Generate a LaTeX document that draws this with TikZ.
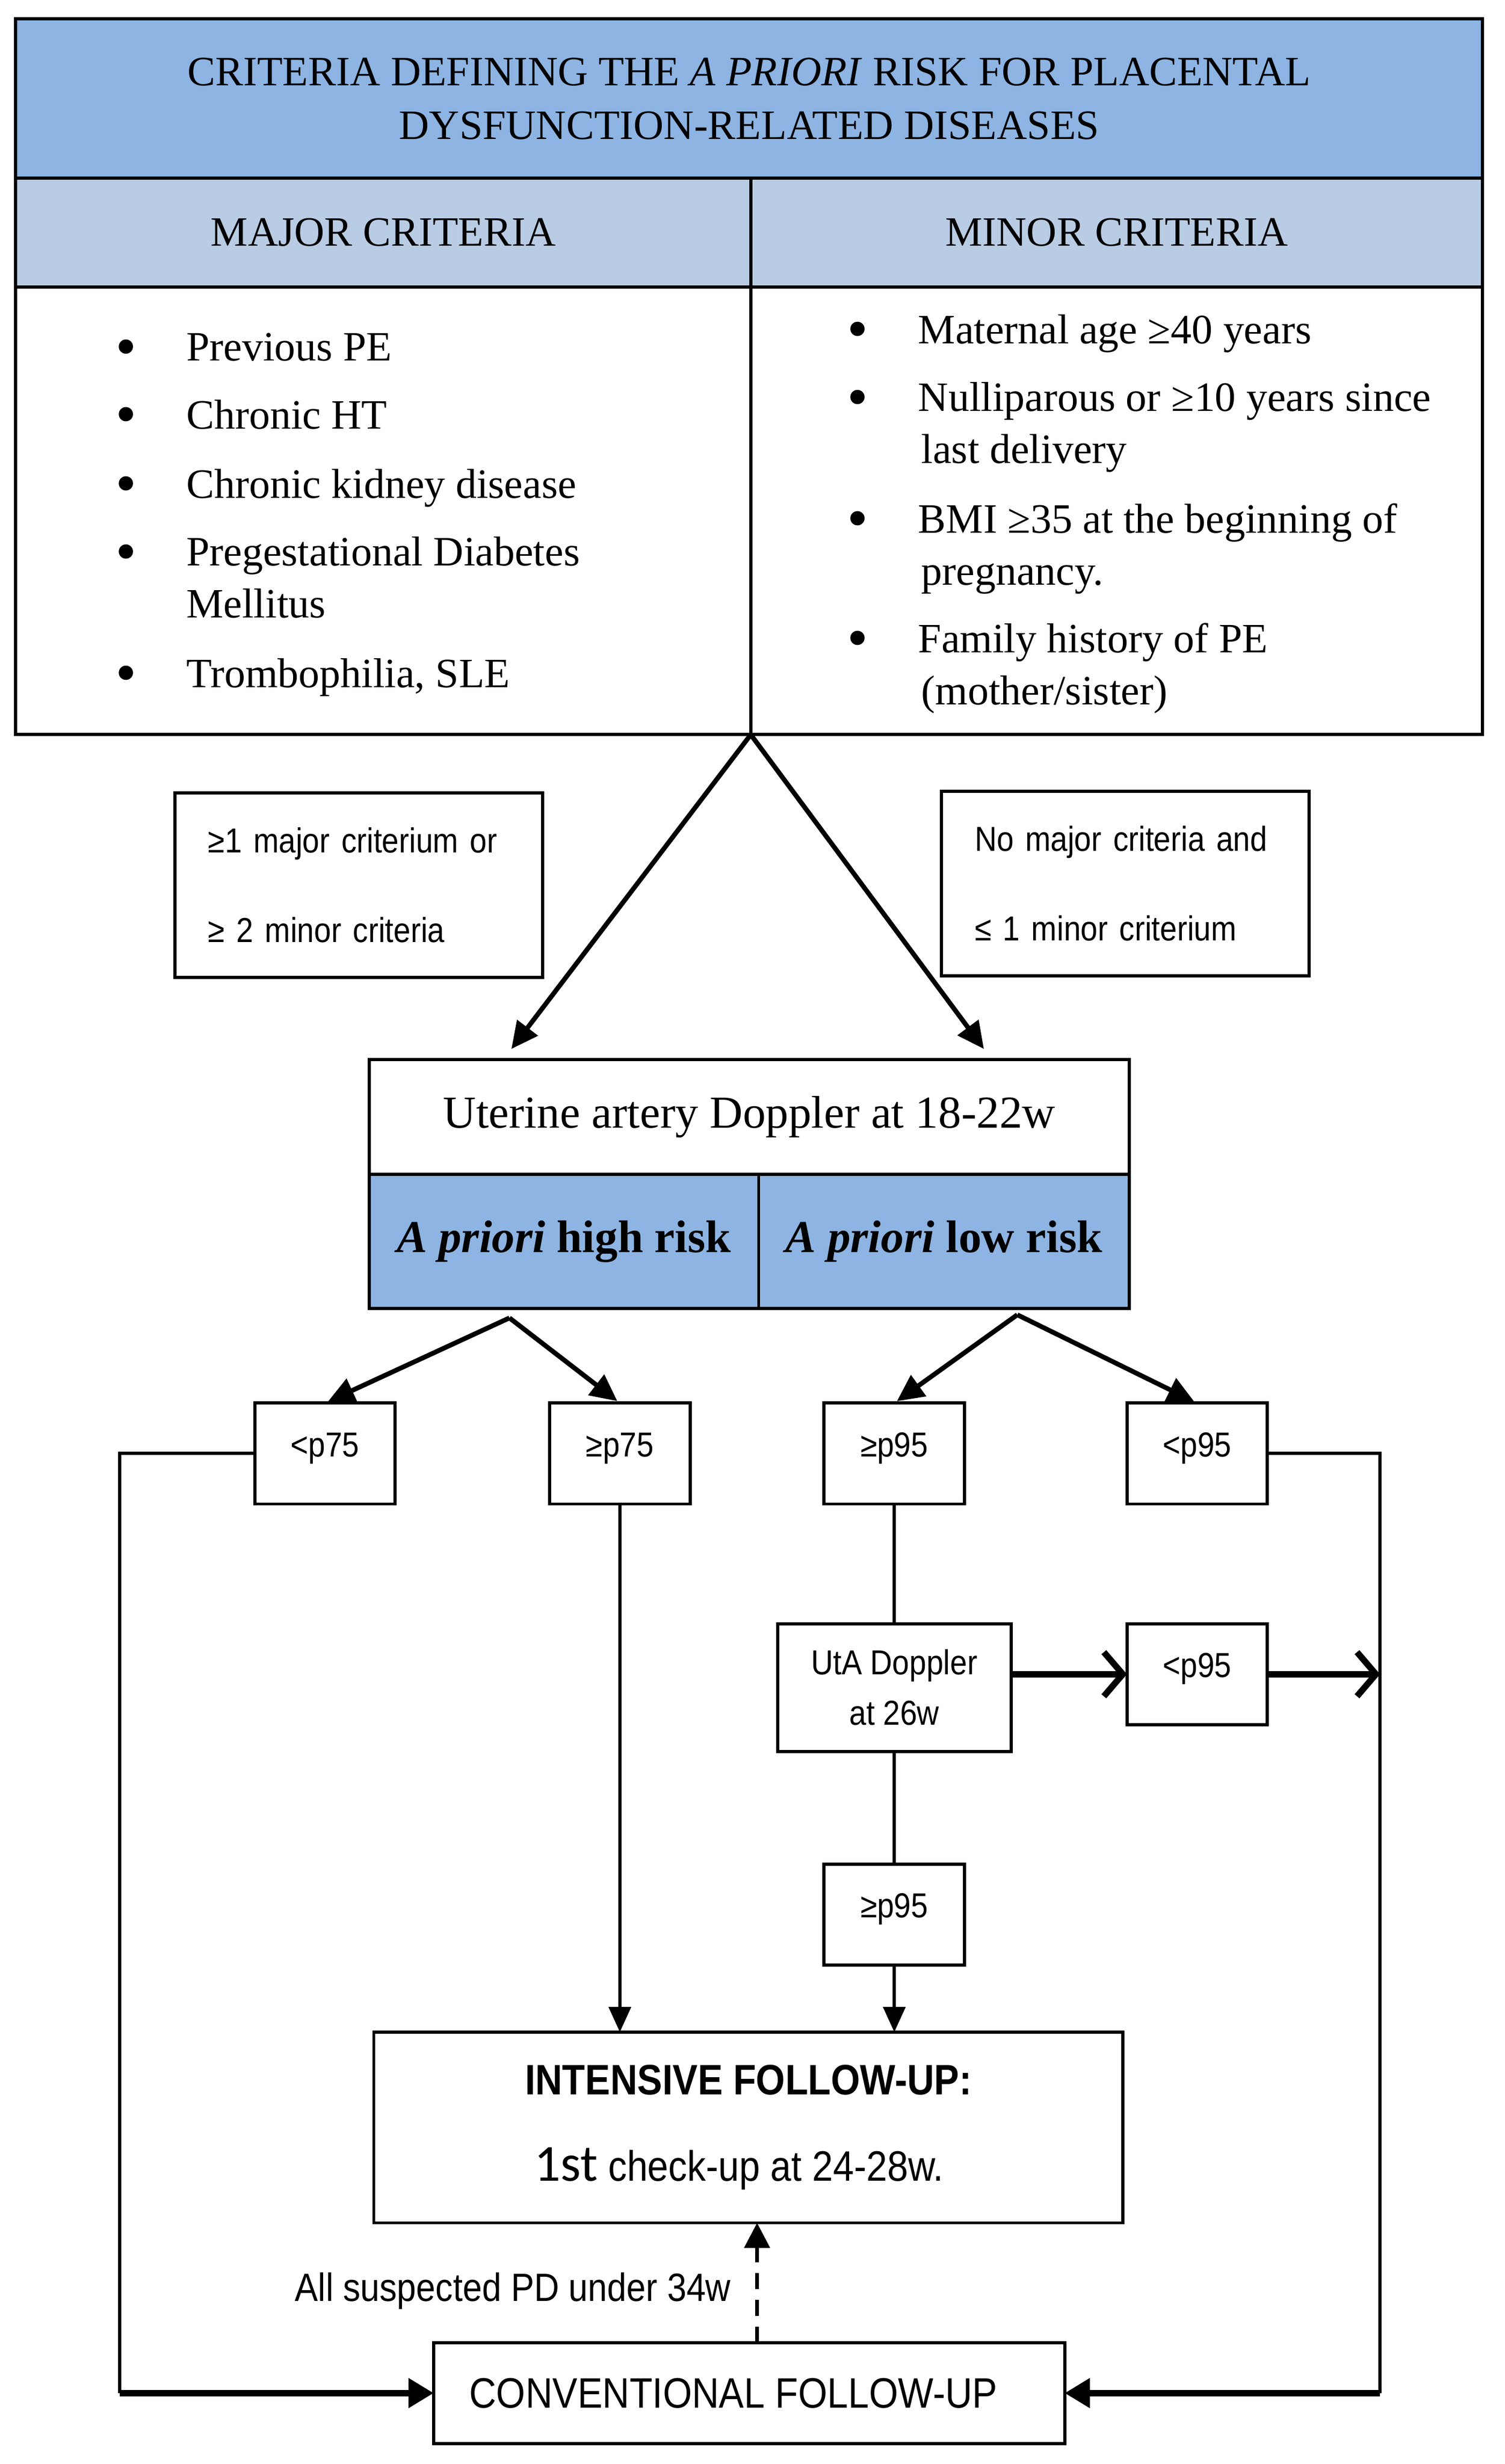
\documentclass[tikz,border=0pt]{standalone}
\usepackage{fontspec}
\setmainfont{Liberation Serif}
\newfontfamily\narrowsans[FakeStretch=0.88]{Liberation Sans}
\newfontfamily\checkfont{Carlito}
\usetikzlibrary{arrows.meta}
\definecolor{titleblue}{RGB}{141,180,226}
\definecolor{headblue}{RGB}{184,204,228}
\newcommand\itembullet{\makebox[45pt][l]{\raisebox{-3.5pt}{\fontsize{38}{38}\selectfont\textbullet}}}
\tikzset{
  cell/.style={draw, line width=2pt, anchor=north west, inner sep=0pt, outer sep=0pt},
  serifbig/.style={font=\fontsize{26.5}{34}\selectfont},
  listitem/.style={anchor=west, inner sep=0pt, text height=18pt, text depth=0pt, font=\fontsize{26.5}{34}\selectfont},
  cbox/.style={draw, line width=2pt, anchor=north west, outer sep=0pt, minimum width=233pt, minimum height=117pt,
    text width=191pt, inner xsep=21pt, inner ysep=0pt, align=left, font=\narrowsans\fontsize{22}{57}\selectfont},
  pbox/.style={draw, line width=2pt, outer sep=0pt, minimum width=89pt, minimum height=64pt, inner sep=0pt,
    font=\narrowsans\fontsize{22}{32}\selectfont},
  plabel/.style={pbox, text height=16pt, text depth=12pt},
  bigbox/.style={draw, line width=2pt, outer sep=0pt, inner sep=0pt, align=center},
  link/.style={line width=2pt},
  arrowlink/.style={line width=3pt, shorten >=2pt, -{Triangle[length=17pt,width=16pt]}},
  barblink/.style={line width=4pt, -{Straight Barb[length=12pt,width=28pt]}}
}
\begin{document}
\begin{tikzpicture}[x=1pt, y=-1pt]
  \useasboundingbox (0,0) rectangle (954,1563);
  \node[cell, fill=titleblue, minimum width=930pt, minimum height=101pt, align=center, serifbig] (title) at (10,12)
    {CRITERIA DEFINING THE \textit{A PRIORI} RISK FOR PLACENTAL\\DYSFUNCTION-RELATED DISEASES};
  \node[cell, fill=headblue, minimum width=466pt, minimum height=69pt, serifbig] (majhead) at (10,113) {MAJOR CRITERIA};
  \node[cell, fill=headblue, minimum width=464pt, minimum height=69pt, serifbig] (minhead) at (476,113) {MINOR CRITERIA};
  \node[cell, minimum width=466pt, minimum height=284pt] (majbox) at (10,182) {};
  \node[cell, minimum width=464pt, minimum height=284pt] (minbox) at (476,182) {};

  \node[listitem] (maj1) at (73,220) {\itembullet Previous PE};
  \node[listitem] (maj2) at (73,263) {\itembullet Chronic HT};
  \node[listitem] (maj3) at (73,307) {\itembullet Chronic kidney disease};
  \node[listitem] (maj4) at (73,350) {\itembullet Pregestational Diabetes};
  \node[listitem] (maj4b) at (118,383) {Mellitus};
  \node[listitem] (maj5) at (73,427) {\itembullet Trombophilia, SLE};

  \node[listitem] (min1) at (537,209) {\itembullet Maternal age ≥40 years};
  \node[listitem] (min2) at (537,252) {\itembullet Nulliparous or ≥10 years since};
  \node[listitem] (min2b) at (584,285) {last delivery};
  \node[listitem] (min3) at (537,329) {\itembullet BMI ≥35 at the beginning of};
  \node[listitem] (min3b) at (584,362) {pregnancy.};
  \node[listitem] (min4) at (537,405) {\itembullet Family history of PE};
  \node[listitem] (min4b) at (584,438) {(mother/sister)};

  \node[cbox] (manyrisk) at (111,503) {≥1 major criterium or\\≥ 2 minor criteria};
  \node[cbox] (fewrisk) at (597,502) {No major criteria and\\≤ 1 minor criterium};

  \node[cell, minimum width=482pt, minimum height=73pt, font=\fontsize{29}{36}\selectfont] (doppler) at (234,672)
    {Uterine artery Doppler at 18-22w};
  \node[cell, fill=titleblue, minimum width=247pt, minimum height=85pt, font=\fontsize{29}{34}\selectfont] (highrisk) at (234,745)
    {\textbf{\textit{A priori} high risk}};
  \node[cell, fill=titleblue, minimum width=235pt, minimum height=85pt, font=\fontsize{29}{34}\selectfont] (lowrisk) at (481,745)
    {\textbf{\textit{A priori} low risk}};

  \node[plabel] (lowpA) at (206,922) {<p75};
  \node[plabel] (highpA) at (393,922) {≥p75};
  \node[plabel] (highpB) at (567,922) {≥p95};
  \node[plabel] (lowpB) at (759,922) {<p95};
  \node[pbox, minimum width=148pt, minimum height=81pt, align=center] (uta) at (567,1070.5) {UtA Doppler\\at 26w};
  \node[plabel] (lowpC) at (759,1062) {<p95};
  \node[plabel] (highpC) at (567,1214.5) {≥p95};

  \node[bigbox, minimum width=475pt, minimum height=121pt, font=\narrowsans\fontsize{27}{55}\selectfont] (intensive) at (474.5,1349.5)
    {\textbf{INTENSIVE FOLLOW-UP:}\\{\checkfont\fontsize{33}{36}\selectfont 1st} check-up at 24-28w.\kern12pt};
  \node[bigbox, minimum width=400pt, minimum height=64pt, font=\narrowsans\fontsize{27}{32}\selectfont] (conventional) at (475,1518)
    {CONVENTIONAL FOLLOW-UP\kern20pt};

  \coordinate (tohigh) at (323,667);
  \coordinate (tolow) at (625,667);
  \coordinate (highsplit) at (323,836);
  \coordinate (lowsplit) at (645,834);
  \coordinate (leftrail) at (76,922);
  \coordinate (rightrail) at (875,922);
  \coordinate (pdline) at (480,1450);

  \begin{scope}[arrowlink]
    \draw (majbox.south east) to (tohigh);
    \draw (majbox.south east) to (tolow);
    \draw (highsplit) to (lowpA.north);
    \draw (highsplit) to (highpA.north);
    \draw (lowsplit) to (highpB.north);
    \draw (lowsplit) to (lowpB.north);
  \end{scope}

  \begin{scope}[link]
    \draw (lowpA.west) -- (leftrail) -- (leftrail |- conventional.west);
    \draw (lowpB.east) -- (rightrail) -- (rightrail |- conventional.east);
    \draw (highpB.south) -- (uta.north);
    \draw (uta.south) -- (highpC.north);
    \draw[-{Triangle[length=16pt,width=14pt]}] (highpA.south) -- (highpA.south |- intensive.north);
    \draw[-{Triangle[length=16pt,width=14pt]}] (highpC.south) -- (highpC.south |- intensive.north);
  \end{scope}

  \draw[line width=4pt, -{Triangle[length=16pt,width=18pt]}] (leftrail |- conventional.west) -- (conventional.west);
  \draw[line width=4pt, -{Triangle[length=16pt,width=18pt]}] (rightrail |- conventional.east) -- (conventional.east);

  \begin{scope}[barblink]
    \draw (uta.east |- lowpC) -- (lowpC.west);
    \draw (lowpC.east) -- (rightrail |- lowpC.east);
  \end{scope}

  \draw[line width=2.5pt, dash pattern=on 10pt off 7pt, -{Triangle[length=16pt,width=16pt]}]
    (conventional.north -| pdline) -- (intensive.south -| pdline)
    node[pos=0.43, anchor=east, xshift=-12pt, font=\narrowsans\fontsize{25}{30}\selectfont] (pdnote) {All suspected PD under 34w};
\end{tikzpicture}
\end{document}
